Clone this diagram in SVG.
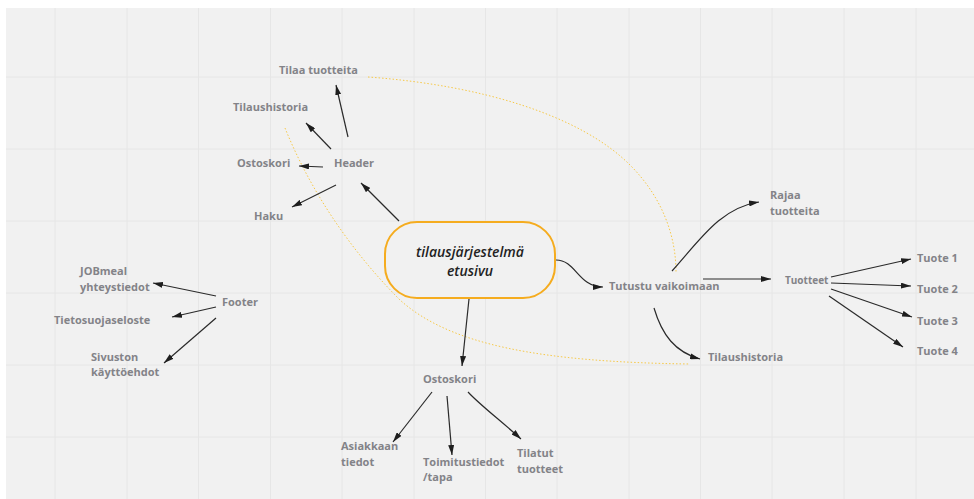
<svg xmlns="http://www.w3.org/2000/svg" width="974" height="499" viewBox="0 0 974 499">
<defs>
<marker id="ah" viewBox="0 0 10 6" refX="10" refY="3" markerWidth="10" markerHeight="6" orient="auto" markerUnits="userSpaceOnUse"><path d="M0,0 L10,3 L0,6 z" fill="#1e1e1e"/></marker>
<style>
.lbl{font-family:"Open Sans","Liberation Sans",sans-serif;font-weight:700;font-size:11px;fill:#838388}
.sm{font-size:10px}
.cen{font-family:"Open Sans","Liberation Sans",sans-serif;font-weight:600;font-style:italic;font-size:14px;fill:#222;text-anchor:middle}
.c{fill:none;stroke:#2a2a2a;stroke-width:1.2;marker-end:url(#ah)}
.dot{fill:none;stroke:#f7c948;stroke-width:1;stroke-dasharray:1.5 2}
.grid{stroke:#e6e6e6;stroke-width:1}
</style>
</defs>
<rect x="0" y="0" width="974" height="499" fill="#ffffff"/>
<rect x="6" y="8" width="968" height="491" fill="#f1f1f1"/>
<g id="grid" class="grid">
<line x1="55" y1="8" x2="55" y2="499"/><line x1="127" y1="8" x2="127" y2="499"/><line x1="198.5" y1="8" x2="198.5" y2="499"/><line x1="270.5" y1="8" x2="270.5" y2="499"/><line x1="342" y1="8" x2="342" y2="499"/><line x1="414" y1="8" x2="414" y2="499"/><line x1="485.5" y1="8" x2="485.5" y2="499"/><line x1="557" y1="8" x2="557" y2="499"/><line x1="629" y1="8" x2="629" y2="499"/><line x1="700.5" y1="8" x2="700.5" y2="499"/><line x1="772" y1="8" x2="772" y2="499"/><line x1="844" y1="8" x2="844" y2="499"/><line x1="916" y1="8" x2="916" y2="499"/>
<line x1="6" y1="77" x2="974" y2="77"/><line x1="6" y1="149" x2="974" y2="149"/><line x1="6" y1="221" x2="974" y2="221"/><line x1="6" y1="293" x2="974" y2="293"/><line x1="6" y1="365" x2="974" y2="365"/><line x1="6" y1="437" x2="974" y2="437"/>
</g>
<g id="relations">
<path class="dot" d="M368,77 C480,85 580,115 630,165 C665,200 676,240 676,272"/>
<path class="dot" d="M285,128 C310,190 350,250 400,300 C450,345 540,362 690,364"/>
</g>
<g id="connectors">
<path class="c" d="M348,137 L336,85"/>
<path class="c" d="M331,149 L306,123"/>
<path class="c" d="M323,167 L299,166"/>
<path class="c" d="M336,185 L292,207"/>
<path class="c" d="M399,221 L361,183"/>
<path class="c" d="M216,296 L153,283"/>
<path class="c" d="M216,307 L172,317"/>
<path class="c" d="M216,318 L164,363"/>
<path class="c" d="M556,260 C576,260 578,287 603,287"/>
<path class="c" d="M672,271 C700,240 720,208 759,202"/>
<path class="c" d="M703,279 L771,279"/>
<path class="c" d="M654,308 C662,335 675,352 700,359"/>
<path class="c" d="M831,277 L911,259"/>
<path class="c" d="M831,283 L911,286"/>
<path class="c" d="M831,289 L912,317"/>
<path class="c" d="M829,296 L903,347"/>
<path class="c" d="M469,299 L462,366"/>
<path class="c" d="M432,392 L393,442"/>
<path class="c" d="M447,396 L452,455"/>
<path class="c" d="M468,392 C480,405 500,420 521,439"/>
</g>
<g id="center">
<rect x="385" y="222" width="170" height="76" rx="32" ry="32" fill="#f1f1f1" stroke="#f5ac1f" stroke-width="2"/>
<text class="cen" x="470" y="257">tilausjärjestelmä</text>
<text class="cen" x="470" y="276">etusivu</text>
</g>
<g id="header"><text class="lbl" x="334" y="167">Header</text></g>
<g id="tilaa-tuotteita"><text class="lbl" x="279" y="74">Tilaa tuotteita</text></g>
<g id="tilaushistoria-h"><text class="lbl" x="233" y="111">Tilaushistoria</text></g>
<g id="ostoskori-h"><text class="lbl" x="237" y="167">Ostoskori</text></g>
<g id="haku"><text class="lbl" x="254" y="220">Haku</text></g>
<g id="footer"><text class="lbl" x="222" y="306">Footer</text></g>
<g id="jobmeal"><text class="lbl" x="80" y="275">JOBmeal</text><text class="lbl" x="80" y="291">yhteystiedot</text></g>
<g id="tietosuoja"><text class="lbl" x="54" y="324">Tietosuojaseloste</text></g>
<g id="sivuston"><text class="lbl" x="91" y="361">Sivuston</text><text class="lbl" x="91" y="376">käyttöehdot</text></g>
<g id="tutustu"><text class="lbl" x="609" y="290">Tutustu vaikoimaan</text></g>
<g id="rajaa"><text class="lbl" x="770" y="199">Rajaa</text><text class="lbl" x="770" y="215">tuotteita</text></g>
<g id="tuotteet"><text class="lbl sm" x="785" y="284">Tuotteet</text></g>
<g id="tuote1"><text class="lbl" x="917" y="262">Tuote 1</text></g>
<g id="tuote2"><text class="lbl" x="917" y="293">Tuote 2</text></g>
<g id="tuote3"><text class="lbl" x="917" y="325">Tuote 3</text></g>
<g id="tuote4"><text class="lbl" x="917" y="355">Tuote 4</text></g>
<g id="tilaushistoria-t"><text class="lbl" x="708" y="361">Tilaushistoria</text></g>
<g id="ostoskori"><text class="lbl" x="423" y="383">Ostoskori</text></g>
<g id="asiakkaan"><text class="lbl" x="341" y="450">Asiakkaan</text><text class="lbl" x="341" y="466">tiedot</text></g>
<g id="toimitus"><text class="lbl" x="423" y="466">Toimitustiedot</text><text class="lbl" x="423" y="481">/tapa</text></g>
<g id="tilatut"><text class="lbl" x="517" y="457">Tilatut</text><text class="lbl" x="517" y="473">tuotteet</text></g>
</svg>
